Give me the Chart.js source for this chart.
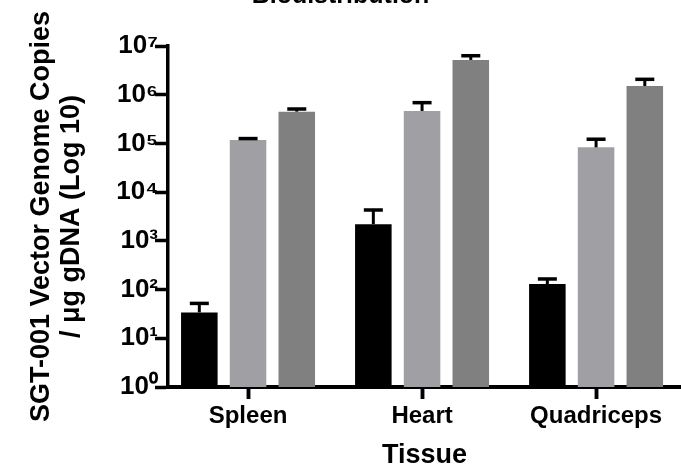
<!DOCTYPE html>
<html><head><meta charset="utf-8">
<script src="https://cdn.jsdelivr.net/npm/chart.js@4.4.1/dist/chart.umd.min.js"></script>
<style>html,body{margin:0;padding:0;background:#fff;} #wrap{width:681px;height:472px;position:relative;}</style>
</head><body><div id="wrap"><canvas id="c"></canvas></div>
<script>
const categories = ['Spleen', 'Heart', 'Quadriceps'];
const seriesNames = ['Group 1', 'Group 2', 'Group 3'];
const series1 = [34, 2200, 130];
const series2 = [117800, 464000, 83000];
const series3 = [449000, 5170000, 1510000];
const err1 = [18, 2100, 35];
const err2 = [8000, 223000, 39000];
const err3 = [60000, 1140000, 560000];
const yTickValues = [1, 10, 100, 1e3, 1e4, 1e5, 1e6, 1e7];
const yTickLabels = ['10⁰', '10¹', '10²', '10³', '10⁴', '10⁵', '10⁶', '10⁷'];
const chartTitle = 'Biodistribution';
const yTitle = ['SGT-001 Vector Genome Copies', '/ μg gDNA (Log 10)'];
const xTitle = 'Tissue';

const FAM = '"Liberation Sans", Arial, Helvetica, sans-serif';
const colors = ['#000000', '#a09fa3', '#808080'];
const allSeries = [series1, series2, series3];
const allErr = [err1, err2, err3];

const datasets = allSeries.map((s, k) => ({
  label: seriesNames[k],
  data: s.map((v, i) => ({ x: i, y: v })),
  errors: allErr[k],
  backgroundColor: colors[k],
  categoryPercentage: 0.84,
  barPercentage: 0.75
}));

const errorBars = {
  id: 'errorBars',
  afterDatasetsDraw(chart) {
    const ctx = chart.ctx;
    const yScale = chart.scales.y;
    const xScale = chart.scales.x;
    ctx.save();
    ctx.strokeStyle = '#000';
    chart.data.datasets.forEach((ds, di) => {
      const meta = chart.getDatasetMeta(di);
      meta.data.forEach((bar, i) => {
        const v = ds.data[i].y;
        const e = ds.errors[i];
        const yTop = yScale.getPixelForValue(v + e);
        ctx.lineWidth = 3;
        ctx.beginPath();
        ctx.moveTo(bar.x, bar.y);
        ctx.lineTo(bar.x, yTop);
        ctx.stroke();
        ctx.lineWidth = 3.5;
        ctx.beginPath();
        ctx.moveTo(bar.x - 9.5, yTop);
        ctx.lineTo(bar.x + 9.5, yTop);
        ctx.stroke();
      });
    });
    // category tick marks below the x axis
    ctx.lineWidth = 3.5;
    categories.forEach((c, i) => {
      const px = Math.round(xScale.getPixelForValue(i)) + 0.5;
      ctx.beginPath();
      ctx.moveTo(px, xScale.top + 2);
      ctx.lineTo(px, xScale.top + 12);
      ctx.stroke();
    });
    ctx.restore();
  }
};

new Chart(document.getElementById('c'), {
  type: 'bar',
  data: { datasets },
  plugins: [errorBars],
  options: {
    responsive: true,
    maintainAspectRatio: false,
    animation: false,
    plugins: {
      legend: { display: false },
      tooltip: { enabled: false },
      title: {
        display: true,
        text: chartTitle,
        color: '#000',
        font: { family: FAM, size: 25, weight: 'bold', lineHeight: 1.2 },
        padding: { top: -19, bottom: 35 }
      }
    },
    scales: {
      x: {
        type: 'linear',
        min: -0.46,
        max: 2.488,
        offset: false,
        afterBuildTicks: (s) => { s.ticks = categories.map((c, i) => ({ value: i })); },
        afterFit: (s) => { s.height = 85; },
        ticks: {
          callback: (v) => categories[v] ?? '',
          color: '#000',
          font: { family: FAM, size: 24, weight: 'bold' },
          padding: 3,
          maxRotation: 0,
          autoSkip: false
        },
        grid: { display: true, offset: false, drawOnChartArea: false, drawTicks: true, tickLength: 12, tickWidth: 3.5, tickColor: '#000' },
        border: { display: true, color: '#000', width: 4 },
        title: {
          display: true,
          text: xTitle,
          color: '#000',
          font: { family: FAM, size: 27, weight: 'bold', lineHeight: 1.2 },
          padding: 0
        }
      },
      y: {
        type: 'logarithmic',
        min: 1,
        max: 1e7,
        afterBuildTicks: (s) => { s.ticks = yTickValues.map(v => ({ value: v })); },
        afterFit: (s) => { s.width = 168; },
        ticks: {
          callback: (v) => yTickLabels[yTickValues.indexOf(v)] ?? '',
          color: '#000',
          font: { family: FAM, size: 26, weight: 'bold' },
          padding: -3,
          autoSkip: false
        },
        grid: { display: true, drawOnChartArea: false, drawTicks: true, tickLength: 13, tickWidth: 3.5, tickColor: '#000' },
        border: { display: true, color: '#000', width: 3.5 },
        title: {
          display: true,
          text: yTitle,
          color: '#000',
          font: { family: FAM, size: 27, weight: 'bold', lineHeight: 1.111 },
          padding: { top: 27, bottom: 0 }
        }
      }
    }
  }
});
</script>
</body></html>
